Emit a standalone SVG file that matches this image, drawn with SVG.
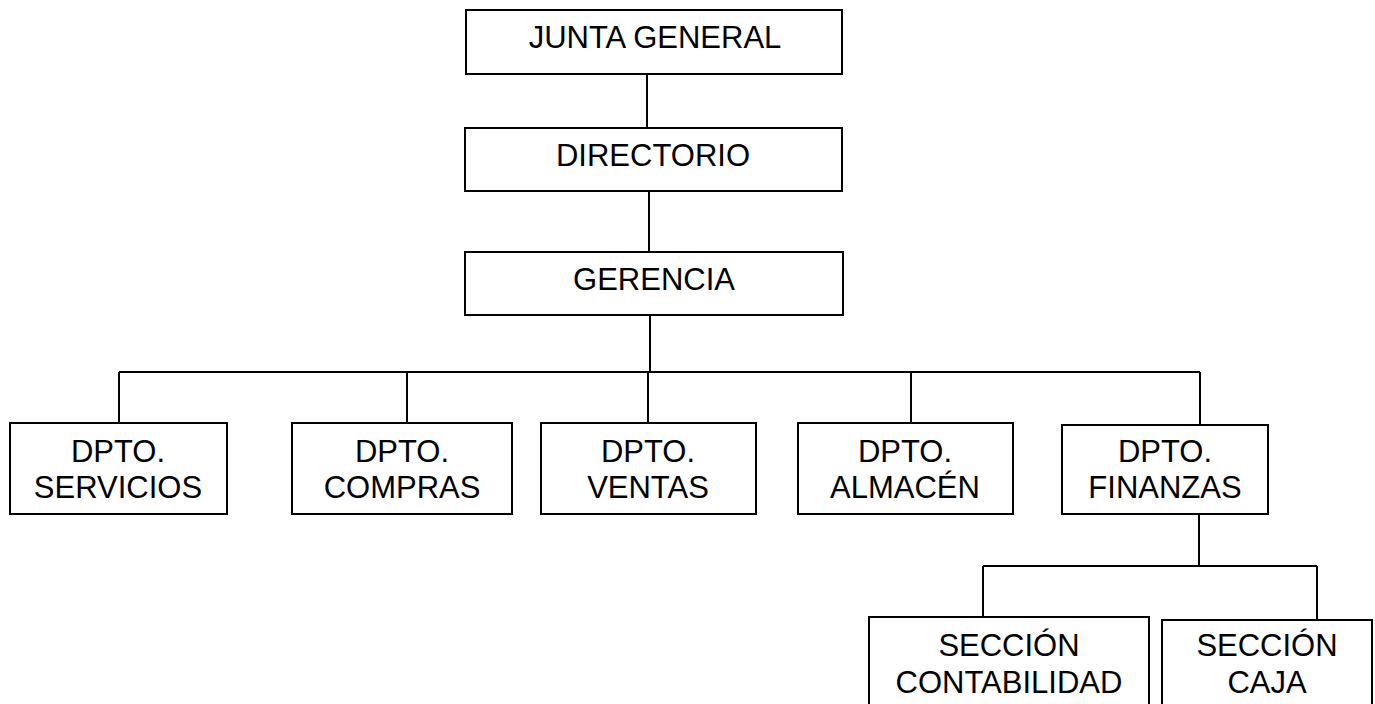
<svg xmlns="http://www.w3.org/2000/svg" width="1375" height="704" viewBox="0 0 1375 704">
<style>
.box{fill:#fff;stroke:#000;stroke-width:2}
.ln{fill:none;stroke:#000;stroke-width:2}
text{font-family:"Liberation Sans",Arial,sans-serif;font-size:31px;fill:#000;text-anchor:middle}
</style>
<rect width="1375" height="704" fill="#fff"/>
<g id="connectors">
<path class="ln" d="M647 74V128M649 191V252M650 315V372M119 372H1200M119 372V423M407 372V423M648 372V423M911 372V423M1200 372V425M1199 514V566M983 566H1317M983 566V617M1317 566V620"/>
</g>
<g id="junta"><rect class="box" x="466" y="10" width="376" height="64"/><text x="655" y="48">JUNTA GENERAL</text></g>
<g id="directorio"><rect class="box" x="465" y="128" width="377" height="63"/><text x="653" y="166">DIRECTORIO</text></g>
<g id="gerencia"><rect class="box" x="465" y="252" width="378" height="63"/><text x="654" y="290">GERENCIA</text></g>
<g id="servicios"><rect class="box" x="10" y="423" width="217" height="91"/><text x="118" y="462">DPTO.</text><text x="118" y="498">SERVICIOS</text></g>
<g id="compras"><rect class="box" x="292" y="423" width="220" height="91"/><text x="402" y="462">DPTO.</text><text x="402" y="498">COMPRAS</text></g>
<g id="ventas"><rect class="box" x="541" y="423" width="215" height="91"/><text x="648" y="462">DPTO.</text><text x="648" y="498">VENTAS</text></g>
<g id="almacen"><rect class="box" x="798" y="423" width="215" height="91"/><text x="905" y="462">DPTO.</text><text x="905" y="498">ALMACÉN</text></g>
<g id="finanzas"><rect class="box" x="1062" y="425" width="206" height="89"/><text x="1165" y="462">DPTO.</text><text x="1165" y="498">FINANZAS</text></g>
<g id="contabilidad"><rect class="box" x="869" y="617" width="280" height="100"/><text x="1009" y="656">SECCIÓN</text><text x="1009" y="693">CONTABILIDAD</text></g>
<g id="caja"><rect class="box" x="1162" y="620" width="210" height="100"/><text x="1267" y="656">SECCIÓN</text><text x="1267" y="693">CAJA</text></g>
</svg>
